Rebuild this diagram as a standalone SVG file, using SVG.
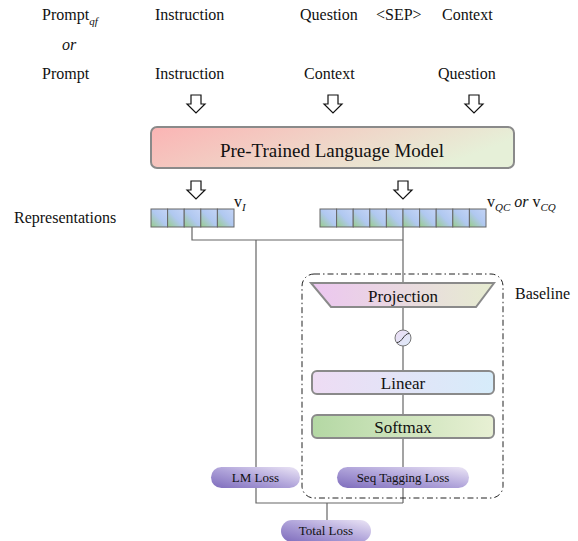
<svg xmlns="http://www.w3.org/2000/svg" width="578" height="541" viewBox="0 0 578 541" font-family="'Liberation Serif', 'Times New Roman', serif">
<defs>
<linearGradient id="gPLM" x1="0" y1="0" x2="1" y2="0.3"><stop offset="0" stop-color="#fbb4b4"/><stop offset="1" stop-color="#e6f0d8"/></linearGradient>
<linearGradient id="gCell" x1="0" y1="1" x2="1" y2="0"><stop offset="0" stop-color="#98cc8c"/><stop offset="0.5" stop-color="#b0c8f0"/><stop offset="1" stop-color="#c4d4f6"/></linearGradient>
<linearGradient id="gProj" x1="0" y1="0" x2="1" y2="0"><stop offset="0" stop-color="#ecc6f0"/><stop offset="1" stop-color="#e6ecd0"/></linearGradient>
<linearGradient id="gLin" x1="0" y1="0" x2="1" y2="0"><stop offset="0" stop-color="#eedcf4"/><stop offset="1" stop-color="#d6ecfa"/></linearGradient>
<linearGradient id="gSoft" x1="0" y1="0" x2="1" y2="0"><stop offset="0" stop-color="#b4d8a4"/><stop offset="1" stop-color="#e8f0d4"/></linearGradient>
<linearGradient id="gPill" x1="0" y1="1" x2="1" y2="0"><stop offset="0" stop-color="#7e6cbc"/><stop offset="0.5" stop-color="#b0a4da"/><stop offset="1" stop-color="#ece6f6"/></linearGradient>
<linearGradient id="gCirc" x1="0" y1="0" x2="1" y2="1"><stop offset="0" stop-color="#ecdcf4"/><stop offset="1" stop-color="#dceaf8"/></linearGradient>
<path id="harrow" d="M-5,0 H5 V9 H9 L0,18 L-9,9 H-5 Z"/>
</defs>
<style>
text{font-family:"Liberation Serif","Times New Roman",serif;fill:#111}
.t{font-size:16px}
.arrow{fill:#fff;stroke:#111;stroke-width:1.2}
.cell{fill:url(#gCell);stroke:#666;stroke-width:1}
.box{stroke:#8a8a8a;stroke-width:2}
.pill{fill:url(#gPill)}
.conn{fill:none;stroke:#666;stroke-width:1.2}
.pt{font-size:13px}
</style>

<g id="connectors">
<path class="conn" d="M192,227 V240 H403"/>
<path class="conn" d="M403,227 V283"/>
<path class="conn" d="M256,240 V503 H403"/>
<path class="conn" d="M403,307 V371"/>
<path class="conn" d="M403,394 V415"/>
<path class="conn" d="M403,438 V503"/>
<path class="conn" d="M327,503 V520"/>
</g>

<g id="inputs">
<text class="t" x="42" y="20">Prompt<tspan font-size="11" font-style="italic" dy="5">qf</tspan></text>
<text class="t" x="155" y="20">Instruction</text>
<text class="t" x="300" y="20">Question</text>
<text class="t" x="376" y="20">&lt;SEP&gt;</text>
<text class="t" x="442" y="20">Context</text>
<text class="t" x="62" y="50" font-style="italic">or</text>
<text class="t" x="42" y="79">Prompt</text>
<text class="t" x="155" y="79">Instruction</text>
<text class="t" x="304" y="79">Context</text>
<text class="t" x="438" y="79">Question</text>
</g>

<g id="arrows">
<use href="#harrow" class="arrow" x="196" y="95"/>
<use href="#harrow" class="arrow" x="333" y="95"/>
<use href="#harrow" class="arrow" x="474" y="95"/>
<use href="#harrow" class="arrow" x="196" y="181"/>
<use href="#harrow" class="arrow" x="403" y="181"/>
</g>

<g id="plm">
<rect class="box" x="151" y="127" width="363" height="41" rx="6" fill="url(#gPLM)"/>
<text x="332" y="157" font-size="19" text-anchor="middle">Pre-Trained Language Model</text>
</g>

<g id="representations">
<text class="t" x="14" y="223">Representations</text>
<rect class="cell" x="151" y="209" width="16.6" height="18"/>
<rect class="cell" x="167.6" y="209" width="16.6" height="18"/>
<rect class="cell" x="184.2" y="209" width="16.6" height="18"/>
<rect class="cell" x="200.8" y="209" width="16.6" height="18"/>
<rect class="cell" x="217.4" y="209" width="16.6" height="18"/>
<text class="t" x="234" y="207">v<tspan font-size="11" font-style="italic" dy="4">I</tspan></text>
<rect class="cell" x="320" y="209" width="16.6" height="18"/>
<rect class="cell" x="336.6" y="209" width="16.6" height="18"/>
<rect class="cell" x="353.2" y="209" width="16.6" height="18"/>
<rect class="cell" x="369.8" y="209" width="16.6" height="18"/>
<rect class="cell" x="386.4" y="209" width="16.6" height="18"/>
<rect class="cell" x="403" y="209" width="16.6" height="18"/>
<rect class="cell" x="419.6" y="209" width="16.6" height="18"/>
<rect class="cell" x="436.2" y="209" width="16.6" height="18"/>
<rect class="cell" x="452.8" y="209" width="16.6" height="18"/>
<rect class="cell" x="469.4" y="209" width="16.6" height="18"/>
<text class="t" x="487" y="207">v<tspan font-size="11" font-style="italic" dy="4">QC</tspan><tspan font-style="italic" dy="-4"> or </tspan>v<tspan font-size="11" font-style="italic" dy="4">CQ</tspan></text>
</g>

<g id="baseline">
<rect x="302" y="274" width="201" height="224" rx="12" fill="none" stroke="#222" stroke-width="1" stroke-dasharray="6,3,1.5,3"/>
<text class="t" x="515" y="299">Baseline</text>
</g>

<g id="projection">
<polygon class="box" points="311,283 494,283 476,307 331,307" fill="url(#gProj)" stroke-width="1.5"/>
<text x="403" y="302" font-size="17" text-anchor="middle">Projection</text>
</g>

<g id="activation">
<circle cx="403" cy="338" r="8" fill="url(#gCirc)" stroke="#777" stroke-width="1"/>
<path d="M397,342.5 C402,342.5 404,333.5 409,333.5" fill="none" stroke="#333" stroke-width="1"/>
</g>

<g id="linear">
<rect class="box" x="312" y="371" width="182" height="23" rx="5" fill="url(#gLin)"/>
<text x="403" y="389" font-size="17" text-anchor="middle">Linear</text>
</g>

<g id="softmax">
<rect class="box" x="312" y="415" width="182" height="23" rx="5" fill="url(#gSoft)"/>
<text x="403" y="433" font-size="17" text-anchor="middle">Softmax</text>
</g>

<g id="lm-loss">
<rect class="pill" x="211" y="467" width="89" height="21" rx="10.5"/>
<text class="pt" x="255.5" y="482" text-anchor="middle">LM Loss</text>
</g>

<g id="seq-loss">
<rect class="pill" x="337" y="467" width="132" height="21" rx="10.5"/>
<text class="pt" x="403" y="482" text-anchor="middle">Seq Tagging Loss</text>
</g>

<g id="total-loss">
<rect class="pill" x="281" y="520" width="90" height="22" rx="11"/>
<text class="pt" x="326" y="535" text-anchor="middle">Total Loss</text>
</g>
</svg>
